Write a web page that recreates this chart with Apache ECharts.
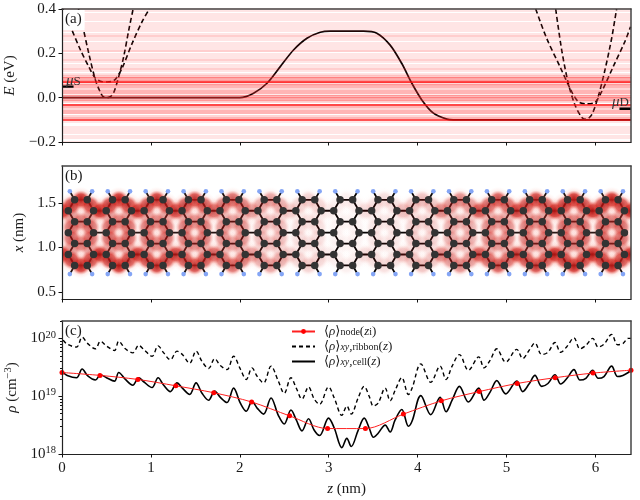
<!DOCTYPE html>
<html>
<head>
<meta charset="utf-8">
<style>html,body{margin:0;padding:0;background:#fff}#chart{width:640px;height:500px}</style>
<script src="https://cdn.jsdelivr.net/npm/echarts@6/dist/echarts.min.js"></script>
</head>
<body>
<div id="chart"></div>
<script>
var FONT = '"Liberation Serif", "DejaVu Serif", serif';

// panel (a): [z nm, E eV]
var potential = [[0,0],[2,0],[2.155,.02],[2.306,.065],[2.455,.14],[2.604,.215],[2.755,.268],[2.905,.295],[3.017,.3],[3.391,.3],[3.541,.291],[3.691,.237],[3.822,.154],[3.935,.065],[4.047,-.01],[4.178,-.07],[4.328,-.097],[4.4,-.1],[6.4,-.1]];
var bandLeftNarrow = [[.185,.4],[.238,.313],[.301,.2],[.376,.08],[.433,.023],[.466,.004],[.508,0],[.545,.005],[.582,.023],[.638,.095],[.694,.185],[.751,.305],[.8,.4]];
var bandLeftWide = [[.01,.4],[.103,.313],[.208,.215],[.301,.14],[.376,.088],[.452,.072],[.508,.071],[.556,.073],[.601,.083],[.676,.133],[.789,.245],[.901,.343],[.983,.4]];
var bandRightNarrow = [[5.553,.4],[5.62,.216],[5.694,.066],[5.77,-.033],[5.845,-.088],[5.893,-.098],[5.957,-.078],[6.031,.005],[6.107,.125],[6.182,.267],[6.238,.4]];
var bandRightWide = [[5.328,.4],[5.452,.267],[5.601,.14],[5.733,.027],[5.807,-.018],[5.893,-.028],[5.994,-.021],[6.07,.027],[6.2,.14],[6.331,.253],[6.395,.32]];
var muSource = [[0,.05],[.13,.05]];
var muDrain = [[6.27,-.05],[6.4,-.05]];
var levelsFaint = [-.197,-.185,-.172,-.16,-.148,-.135,-.125,-.112,.104,.111,.118,.127,.134,.142,.15,.157,.166,.174,.181,.19,.198,.207,.214,.223,.232,.24,.25,.258,.267,.276,.284,.295,.303,.312,.323,.331,.342,.35,.36,.368,.379,.388,.397];
var levelsMedium = [-.098,-.092,-.086,-.08,-.074,-.068,-.062,-.056,-.05,-.044,-.038,-.032,-.026,-.02,-.014,-.008,-.002,.004,.01,.016,.022,.028,.034,.04,.046,.052,.058,.064,.07,.076,.082,.088,.094];
var levelsDense = [-.008,-.003,.002,.007,.012,.06,.065,.07,.075,.08,.085,.09,.095];
var levelsStrong = [-.1,-.03,.07];

// panel (b): lattice read in nm, one unit cell repeated along the ribbon
var cellLength = .4265;
var cellCount = 15;
var rowCentre = 1.166;
var rowStep = .123;
var rowsOdd = [-3,-1,1,3];
var rowsEven = [-2,0,2];
var atomsOddZ = [.142,.284];
var atomsEvenZ = [.071,.355];
var hydrogenZ = [.088,.339];
var hydrogenX = [.7,1.63];
var cellDensity = [1,1,1,.95,.9,.72,.45,.22,.08,.16,.3,.55,.8,.9,1,1,1]; // cells -1..15
// density sites in one cell: [z, row, weight]
var densitySites = [
  [.213,3,1],[.213,-3,1],[.213,1,.6],[.213,-1,.6],
  [0,2,1],[0,-2,1],
  [.1065,2.5,.85],[.3195,2.5,.85],[.1065,-2.5,.85],[.3195,-2.5,.85],
  [.1065,1.5,.4],[.3195,1.5,.4],[.1065,-1.5,.4],[.3195,-1.5,.4],
  [.1065,.5,.65],[.3195,.5,.65],[.1065,-.5,.65],[.3195,-.5,.65]
];

// panel (c): z nm and log10(rho)
var nodeZ = [0,.427,.853,1.28,1.707,2.133,2.56,2.987,3.413,3.84,4.267,4.693,5.12,5.547,5.973,6.4];
var nodeLog = [19.41,19.36,19.29,19.18,19.06,18.9,18.66,18.44,18.44,18.69,18.92,19.08,19.22,19.32,19.4,19.45];
var lineZ = [.013,.058,.163,.227,.29,.376,.433,.5,.59,.638,.713,.796,.863,.919,1.013,1.081,1.144,1.219,1.294,1.354,1.436,1.508,1.575,1.649,1.717,1.781,1.856,1.93,2.006,2.073,2.137,2.197,2.267,2.351,2.433,2.5,2.575,2.635,2.699,2.773,2.837,2.897,2.998,3.062,3.148,3.204,3.253,3.331,3.399,3.455,3.503,3.556,3.635,3.691,3.747,3.822,3.897,3.938,4.036,4.148,4.253,4.32,4.388,4.47,4.571,4.688,4.747,4.815,4.89,4.991,5.115,5.182,5.253,5.32,5.396,5.466,5.545,5.609,5.68,5.758,5.826,5.893,5.969,6.031,6.096,6.182,6.249,6.309,6.369,6.4];
var cellLog = [19.41,19.36,19.32,19.47,19.35,19.28,19.37,19.32,19.26,19.41,19.29,19.19,19.32,19.25,19.15,19.32,19.19,19.08,19.23,19.14,19.03,19.23,19.05,18.93,19.09,18.98,18.89,19.14,18.88,18.74,18.91,18.79,18.69,18.97,18.67,18.52,18.76,18.59,18.4,18.61,18.41,18.32,18.62,18.45,18.11,18.27,18.13,18.41,18.62,18.45,18.29,18.36,18.5,18.38,18.59,18.77,18.48,18.57,19.01,18.68,18.98,18.73,18.93,19.17,18.9,19.14,18.93,19.07,19.27,19.04,19.26,19.08,19.21,19.36,19.17,19.22,19.37,19.21,19.31,19.46,19.28,19.31,19.45,19.31,19.34,19.52,19.34,19.36,19.41,19.45];
var ribbonLog = [19.97,19.9,19.85,20.02,19.91,19.82,19.95,19.87,19.79,19.95,19.82,19.75,19.88,19.81,19.69,19.87,19.75,19.63,19.78,19.72,19.57,19.78,19.6,19.48,19.65,19.53,19.46,19.69,19.47,19.29,19.49,19.34,19.23,19.52,19.26,19.05,19.32,19.14,18.95,19.16,18.95,18.86,19.16,18.97,18.67,18.83,18.69,18.97,19.17,19,18.83,18.88,19.14,18.92,19.1,19.32,19.03,19.14,19.56,19.24,19.52,19.29,19.52,19.72,19.45,19.68,19.49,19.62,19.82,19.59,19.81,19.65,19.79,19.92,19.72,19.76,19.93,19.76,19.86,20.01,19.82,19.88,20,19.85,19.9,20.07,19.89,19.91,20,20];

var zTicks = [0,1,2,3,4,5,6];
var eTicks = [-.2,0,.2,.4];
var xTicks = [.5,1,1.5];
var rhoTicks = [1e18,1e19,1e20];
var rhoMinorTicks = [2e18,3e18,4e18,5e18,6e18,7e18,8e18,9e18,2e19,3e19,4e19,5e19,6e19,7e19,8e19,9e19,2e20];

var atomsC = [], atomsH = [], bonds = [], blobs = [];
function rowX(k) { return rowCentre + k * rowStep; }
function addBond(a, b) { bonds.push(a, b, ['-','-']); }
for (var n = 0; n < cellCount; n++) {
  var off = n * cellLength;
  rowsOdd.forEach(function (k) {
    var z1 = atomsOddZ[0] + off, z2 = atomsOddZ[1] + off, x = rowX(k);
    atomsC.push([z1,x],[z2,x]);
    addBond([z1,x],[z2,x]);
  });
  rowsEven.forEach(function (k) {
    var x = rowX(k), z1 = atomsEvenZ[0] + off, z2 = atomsEvenZ[1] + off;
    atomsC.push([z1,x],[z2,x]);
    if (n < cellCount - 1) addBond([z2,x],[atomsEvenZ[0] + off + cellLength,x]);
    [k-1,k+1].forEach(function (m) {
      addBond([z1,x],[atomsOddZ[0] + off,rowX(m)]);
      addBond([z2,x],[atomsOddZ[1] + off,rowX(m)]);
    });
  });
  hydrogenX.forEach(function (hx, i) {
    var row = rowX(i ? 3 : -3);
    atomsH.push([hydrogenZ[0] + off,hx],[hydrogenZ[1] + off,hx]);
    addBond([hydrogenZ[0] + off,hx],[atomsOddZ[0] + off,row]);
    addBond([hydrogenZ[1] + off,hx],[atomsOddZ[1] + off,row]);
  });
}
cellDensity.forEach(function (w, i) {
  var off = (i - 1) * cellLength;
  densitySites.forEach(function (s) {
    blobs.push([s[0] + off, rowX(s[1]), s[2] * w]);
  });
});

function logPairs(zs, logs) {
  return zs.map(function (z, i) { return [z, Math.pow(10, logs[i])]; });
}

var chart = echarts.init(document.getElementById('chart'), null, {renderer: 'canvas'});

var blobFill = new echarts.graphic.RadialGradient(.5, .5, .5, [
  {offset: 0, color: 'rgba(165,8,8,1)'},
  {offset: .45, color: 'rgba(210,38,32,.8)'},
  {offset: .72, color: 'rgba(245,115,100,.13)'},
  {offset: 1, color: 'rgba(255,170,155,0)'}
]);

var tickLine = {color: '#111', width: 1};
var nameRich = {
  i: {fontFamily: FONT, fontStyle: 'italic', fontSize: 15, color: '#1a1a1a'},
  s: {fontFamily: FONT, fontSize: 10.5, color: '#1a1a1a', verticalAlign: 'top', padding: [0,0,7,0]}
};

function mainX(g, labelled) {
  return {
    type: 'value', gridIndex: g, min: 0, max: 6.4, position: 'bottom', z: 10,
    splitLine: {show: false},
    axisLine: {show: true, onZero: false, lineStyle: {color: '#222', width: 1.2}},
    axisTick: {show: true, length: 3.5, lineStyle: tickLine, customValues: zTicks},
    axisLabel: {show: labelled, margin: 7, customValues: zTicks, fontFamily: FONT, fontSize: 15, color: '#1a1a1a'},
    name: labelled ? '{i|z} (nm)' : '', nameLocation: 'middle', nameGap: 28,
    nameTextStyle: {fontFamily: FONT, fontSize: 15, color: '#1a1a1a', rich: nameRich}
  };
}
function spineX(g) {
  return {type: 'value', gridIndex: g, min: 0, max: 6.4, position: 'top', z: 10, splitLine: {show: false},
    axisLine: {show: true, onZero: false, lineStyle: {color: '#444', width: 1.5}}, axisTick: {show: false}, axisLabel: {show: false}};
}
function mainY(g, min, max, ticks, fmt, name, gap, type) {
  return {
    type: type || 'value', gridIndex: g, min: min, max: max, position: 'left', z: 10,
    splitLine: {show: false},
    axisLine: {show: true, onZero: false, lineStyle: {color: '#222', width: 1.2}},
    axisTick: {show: true, length: 3.5, lineStyle: tickLine, customValues: ticks},
    axisLabel: {show: true, margin: 6, customValues: ticks, formatter: fmt, fontFamily: FONT, fontSize: 15, color: '#1a1a1a',
      rich: {s: {fontFamily: FONT, fontSize: 10.5, color: '#1a1a1a', verticalAlign: 'top', padding: [0,0,7,0]}}},
    name: name, nameLocation: 'middle', nameGap: gap, nameRotate: 90,
    nameTextStyle: {fontFamily: FONT, fontSize: 15, color: '#1a1a1a', rich: nameRich}
  };
}
function spineY(g, min, max, type) {
  return {type: type || 'value', gridIndex: g, min: min, max: max, position: 'right', z: 10, splitLine: {show: false},
    axisLine: {show: true, onZero: false, lineStyle: {color: '#444', width: 1.5}}, axisTick: {show: false}, axisLabel: {show: false}};
}

function levelLines(levels, color, width) {
  return {
    type: 'line', xAxisIndex: 0, yAxisIndex: 0, data: [], z: 1, silent: true,
    markLine: {silent: true, symbol: 'none', animation: false, label: {show: false}, emphasis: {disabled: true},
      lineStyle: {color: color, width: width, type: 'solid'},
      data: levels.map(function (v) { return {yAxis: v}; })}
  };
}
function panelLine(data, color, width, dash) {
  return {type: 'line', xAxisIndex: 0, yAxisIndex: 0, data: data, smooth: .3, showSymbol: false, symbol: 'none', z: 4,
    lineStyle: {color: color, width: width, type: dash ? [5,3] : 'solid'}};
}

var NODE_NAME = 'node', RIBBON_NAME = 'ribbon', CELL_NAME = 'cell';
var labelStyle = {fontFamily: FONT, fontWeight: 'normal', fontSize: 15, color: '#1a1a1a'};
var muStyle = {fontFamily: FONT, fontWeight: 'normal', fontSize: 13, color: '#333',
  rich: {i: {fontFamily: FONT, fontStyle: 'italic', fontSize: 15, color: '#333'}}};

var option = {
  animation: false,
  backgroundColor: '#fff',
  grid: [
    {left: 62, right: 9, top: 9, height: 133, outerBoundsMode: 'none'},
    {left: 62, right: 9, top: 166, height: 133, outerBoundsMode: 'none'},
    {left: 62, right: 9, top: 321, height: 133, outerBoundsMode: 'none'}
  ],
  title: [
    {text: '(a)', left: 63, top: 10, padding: [2,3,3,2], backgroundColor: '#fff', textStyle: labelStyle},
    {text: '(b)', left: 63, top: 167, padding: [2,3,3,2], textStyle: labelStyle},
    {text: '(c)', left: 63, top: 322, padding: [2,3,3,2], textStyle: labelStyle},
    {text: '{i|μ}S', left: 66, top: 74, padding: 0, textStyle: muStyle},
    {text: '{i|μ}D', left: 612, top: 95, padding: 0, textStyle: muStyle}
  ],
  legend: {
    data: [{name: NODE_NAME}, {name: RIBBON_NAME, itemStyle: {opacity: 0}}, {name: CELL_NAME, itemStyle: {opacity: 0}}],
    left: 286, top: 324, orient: 'vertical', itemWidth: 23, itemHeight: 6, itemGap: 2, padding: [1,5],
    selectedMode: false,
    formatter: function (name) {
      if (name === NODE_NAME) return '⟨{i|ρ}⟩{b|node}({i|z}{b|i})';
      if (name === RIBBON_NAME) return '⟨{i|ρ}⟩{c|xy},{b|ribbon}({i|z})';
      return '⟨{i|ρ}⟩{c|xy},{b|cell}({i|z})';
    },
    textStyle: {fontFamily: FONT, fontSize: 13, color: '#1a1a1a', lineHeight: 11, padding: [0,0,0,4],
      rich: {
        i: {fontFamily: FONT, fontStyle: 'italic', fontSize: 13, color: '#1a1a1a'},
        b: {fontFamily: FONT, fontSize: 10, color: '#1a1a1a', verticalAlign: 'bottom'},
        c: {fontFamily: FONT, fontStyle: 'italic', fontSize: 10, color: '#1a1a1a', verticalAlign: 'bottom'}
      }}
  },
  xAxis: [mainX(0,false), mainX(1,false), mainX(2,true), spineX(0), spineX(1), spineX(2)],
  yAxis: [
    mainY(0, -.2, .4, eTicks, function (v) { return (v < 0 ? '−' : '') + Math.abs(v).toFixed(1); }, '{i|E} (eV)', 37),
    mainY(1, .42, 1.915, xTicks, function (v) { return v.toFixed(1); }, '{i|x} (nm)', 34),
    mainY(2, 1e18, 2e20, rhoTicks, function (v) { return '10{s|' + Math.round(Math.log10(v)) + '}'; }, '{i|ρ} (cm{s|−3})', 38, 'log'),
    spineY(0, -.2, .4), spineY(1, .42, 1.915), spineY(2, 1e18, 2e20, 'log'),
    {type: 'log', gridIndex: 2, min: 1e18, max: 2e20, position: 'left', z: 10, splitLine: {show: false},
      axisLine: {show: false, onZero: false}, axisLabel: {show: false},
      axisTick: {show: true, length: 2, lineStyle: tickLine, customValues: rhoMinorTicks}}
  ],
  series: [
    levelLines(levelsFaint, 'rgba(255,50,50,.17)', 1.7),
    levelLines(levelsMedium, 'rgba(255,50,50,.27)', 1.7),
    levelLines(levelsDense, 'rgba(255,40,40,.2)', 1.4),
    levelLines(levelsStrong, 'rgba(255,10,10,.85)', 1.5),
    panelLine(potential, '#000', 1.7, false),
    panelLine(bandLeftNarrow, '#000', 1.6, true),
    panelLine(bandLeftWide, '#000', 1.6, true),
    panelLine(bandRightNarrow, '#000', 1.6, true),
    panelLine(bandRightWide, '#000', 1.6, true),
    {type: 'line', xAxisIndex: 0, yAxisIndex: 0, data: muSource, showSymbol: false, symbol: 'none', z: 5, lineStyle: {color: '#000', width: 2.4}},
    {type: 'line', xAxisIndex: 0, yAxisIndex: 0, data: muDrain, showSymbol: false, symbol: 'none', z: 5, lineStyle: {color: '#000', width: 2.4}},

    {type: 'line', xAxisIndex: 1, yAxisIndex: 1, data: bonds, showSymbol: false, symbol: 'none', connectNulls: false, z: 2,
      lineStyle: {color: '#000', width: 1.8}},
    {type: 'custom', xAxisIndex: 1, yAxisIndex: 1, data: blobs, clip: true, silent: true, z: 3,
      encode: {x: 0, y: 1},
      renderItem: function (params, api) {
        var c = api.coord([api.value(0), api.value(1)]);
        return {type: 'circle', shape: {cx: c[0], cy: c[1], r: 13}, style: {fill: blobFill, opacity: api.value(2)}};
      }},
    {type: 'scatter', xAxisIndex: 1, yAxisIndex: 1, data: atomsC, symbolSize: 7.5, z: 5, itemStyle: {color: '#333333', opacity: 1}},
    {type: 'scatter', xAxisIndex: 1, yAxisIndex: 1, data: atomsH, symbolSize: 4.6, z: 5, itemStyle: {color: '#84a5f5', opacity: 1}},

    {name: RIBBON_NAME, type: 'line', xAxisIndex: 2, yAxisIndex: 2, data: logPairs(lineZ, ribbonLog), smooth: .35, showSymbol: false, symbol: 'none', z: 4, clip: true,
      itemStyle: {color: '#000'}, lineStyle: {color: '#000', width: 1.4, type: [4,3]}},
    {name: CELL_NAME, type: 'line', xAxisIndex: 2, yAxisIndex: 2, data: logPairs(lineZ, cellLog), smooth: .35, showSymbol: false, symbol: 'none', z: 4, clip: true,
      itemStyle: {color: '#000'}, lineStyle: {color: '#000', width: 1.6}},
    {name: NODE_NAME, type: 'line', xAxisIndex: 2, yAxisIndex: 2, data: logPairs(nodeZ, nodeLog), smooth: .3, symbol: 'circle', symbolSize: 5, z: 5, clip: false,
      itemStyle: {color: '#ff0000'}, lineStyle: {color: '#ff2020', width: 1}}
  ]
};
chart.setOption(option);
</script>
</body>
</html>
